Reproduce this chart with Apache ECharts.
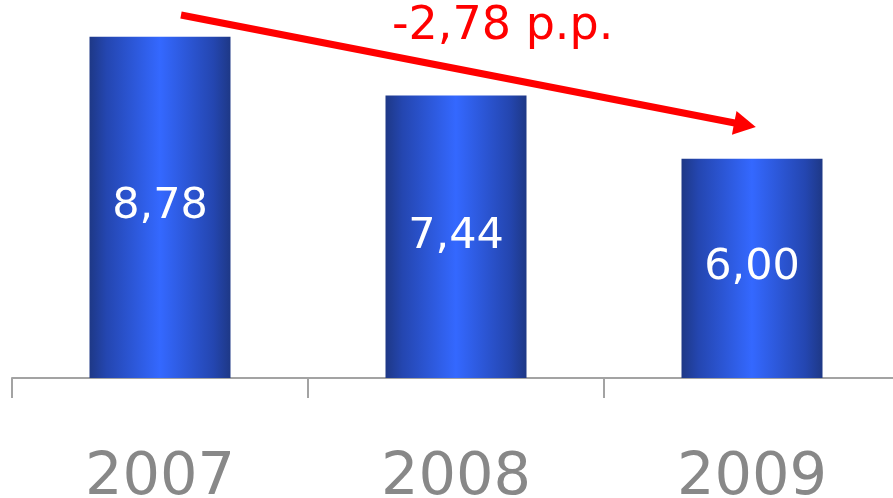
<!DOCTYPE html>
<html>
<head>
<meta charset="utf-8">
<script src="https://cdn.jsdelivr.net/npm/echarts@6/dist/echarts.min.js"></script>
<style>html,body{margin:0;padding:0;background:#fff;}#c{width:893px;height:498px;}</style>
</head>
<body>
<div id="c"></div>
<script>
var years = ['2007', '2008', '2009'];
var values = [8.78, 7.44, 6.00];
var changeLabel = '-2,78 p.p.';

var chart = echarts.init(document.getElementById('c'));
var barGradient = new echarts.graphic.LinearGradient(0, 0, 1, 0, [
  {offset: 0, color: '#1e3886'},
  {offset: 0.12, color: '#2446b0'},
  {offset: 0.5, color: '#3468ff'},
  {offset: 0.88, color: '#2446b0'},
  {offset: 1, color: '#1e3886'}
]);
chart.setOption({
  animation: false,
  grid: {left: 12, right: -7, top: 27, bottom: 120, containLabel: false, outerBoundsMode: 'none'},
  xAxis: {
    type: 'category',
    data: years,
    axisLine: {show: true, lineStyle: {color: '#a3a3a3', width: 2}},
    axisTick: {show: true, alignWithLabel: false, interval: 0, length: 20, lineStyle: {color: '#a3a3a3', width: 2}},
    axisLabel: {color: '#888888', fontSize: 59, fontFamily: 'DejaVu Sans', margin: 71, interval: 0}
  },
  yAxis: {
    type: 'value', min: 1, max: 9, show: false, splitLine: {show: false}
  },
  series: [{
    type: 'bar',
    data: values,
    barWidth: 141,
    itemStyle: {color: barGradient},
    label: {
      show: true, position: 'inside', color: '#ffffff', fontSize: 43,
      fontFamily: 'DejaVu Sans',
      formatter: function (p) { return p.value.toFixed(2).replace('.', ','); }
    },
    markLine: {
      silent: true,
      symbol: ['none', 'triangle'],
      symbolSize: [24, 22],
      label: {show: false},
      lineStyle: {color: '#ff0000', width: 7, type: 'solid'},
      data: [[{x: 181, y: 15}, {x: 745, y: 125}]]
    }
  }],
  graphic: [{
    type: 'text', left: 392, top: 4,
    style: {text: changeLabel, fill: '#ff0000', fontSize: 46, fontFamily: 'DejaVu Sans'}
  }]
});
</script>
</body>
</html>
